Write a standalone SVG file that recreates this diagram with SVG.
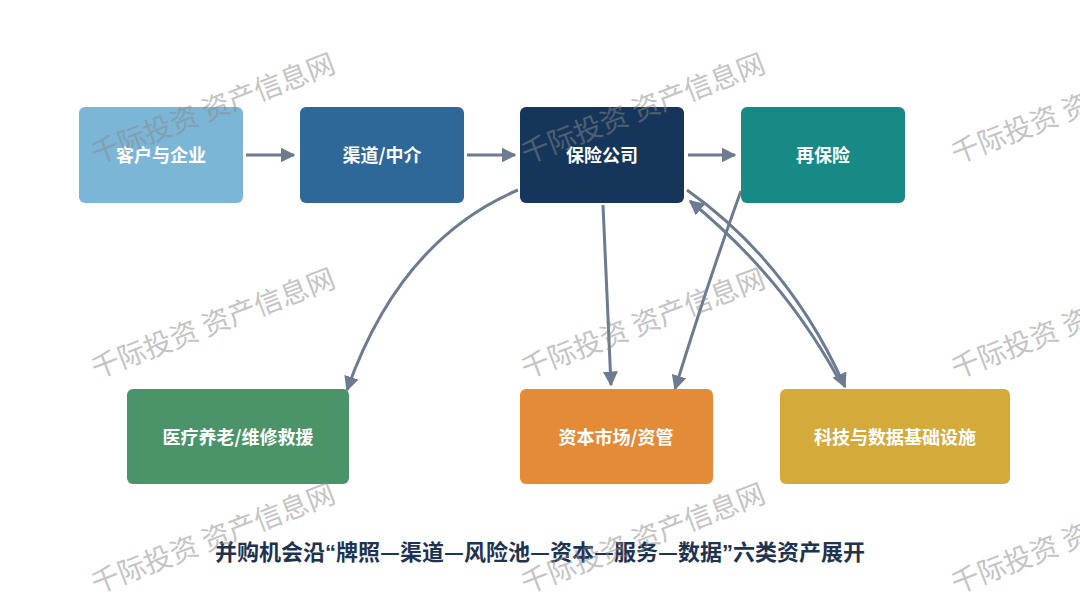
<svg xmlns="http://www.w3.org/2000/svg" width="1080" height="616" viewBox="0 0 1080 616">
<style>
.lbl{font-family:"Noto Sans CJK SC","Noto Sans",sans-serif;font-weight:700;font-size:18px;fill:#ffffff;text-anchor:middle;dominant-baseline:central}
.title{font-family:"Noto Sans CJK SC","Noto Sans",sans-serif;font-weight:700;font-size:22px;fill:#1d3352;text-anchor:middle}
.q{font-family:"Liberation Sans","Noto Sans CJK SC",sans-serif}
.wm{font-family:"Noto Sans CJK SC","Noto Sans",sans-serif;font-size:28px;fill:#8a8a8a;opacity:0.5}
.con{fill:none;stroke:#6c7b90;stroke-width:3;marker-end:url(#ah)}
</style>
<defs>
<marker id="ah" viewBox="0 0 10 10" refX="9" refY="5" markerWidth="5" markerHeight="5" orient="auto" markerUnits="strokeWidth">
<path d="M0,0 L10,5 L0,10 z" fill="#6c7b90"/>
</marker>
</defs>
<rect width="1080" height="616" fill="#ffffff"/>
<g id="connectors">
<path class="con" d="M246,155 L294,155"/>
<path class="con" d="M467,155 L515,155"/>
<path class="con" d="M688,155 L735,155"/>
<path class="con" d="M518,190 Q400,240 347,390"/>
<path class="con" d="M603,205 L611,385"/>
<path class="con" d="M741,191 Q712,270 675,389"/>
<path class="con" d="M687,190 Q790,263 845,387"/>
<path class="con" d="M838,378 Q782,276 690,201"/>
</g>
<g id="n1"><rect x="79" y="107" width="164" height="96" rx="6" fill="#7bb6d6"/><text class="lbl" x="161" y="154">客户与企业</text></g>
<g id="n2"><rect x="300" y="107" width="164" height="96" rx="6" fill="#2e6898"/><text class="lbl" x="382" y="154">渠道/中介</text></g>
<g id="n3"><rect x="520" y="107" width="164" height="96" rx="6" fill="#15365a"/><text class="lbl" x="602" y="154">保险公司</text></g>
<g id="n4"><rect x="741" y="107" width="164" height="96" rx="6" fill="#188a85"/><text class="lbl" x="823" y="154">再保险</text></g>
<g id="n5"><rect x="127" y="389" width="222" height="95" rx="6" fill="#4b9469"/><text class="lbl" x="238" y="436">医疗养老/维修救援</text></g>
<g id="n6"><rect x="520" y="389" width="193" height="95" rx="6" fill="#e48b37"/><text class="lbl" x="616" y="436">资本市场/资管</text></g>
<g id="n7"><rect x="780" y="389" width="230" height="95" rx="6" fill="#d4aa3b"/><text class="lbl" x="895" y="436">科技与数据基础设施</text></g>
<text class="title" x="540" y="560">并购机会沿<tspan class="q">“</tspan>牌照—渠道—风险池—资本—服务—数据<tspan class="q">”</tspan>六类资产展开</text>
<g id="watermarks">
<text class="wm" transform="translate(96,164) rotate(-21)">千际投资 资产信息网</text>
<text class="wm" transform="translate(526,164) rotate(-21)">千际投资 资产信息网</text>
<text class="wm" transform="translate(956,164) rotate(-21)">千际投资 资产信息网</text>
<text class="wm" transform="translate(96,379) rotate(-21)">千际投资 资产信息网</text>
<text class="wm" transform="translate(526,379) rotate(-21)">千际投资 资产信息网</text>
<text class="wm" transform="translate(956,379) rotate(-21)">千际投资 资产信息网</text>
<text class="wm" transform="translate(96,594) rotate(-21)">千际投资 资产信息网</text>
<text class="wm" transform="translate(526,594) rotate(-21)">千际投资 资产信息网</text>
<text class="wm" transform="translate(956,594) rotate(-21)">千际投资 资产信息网</text>
</g>
</svg>
